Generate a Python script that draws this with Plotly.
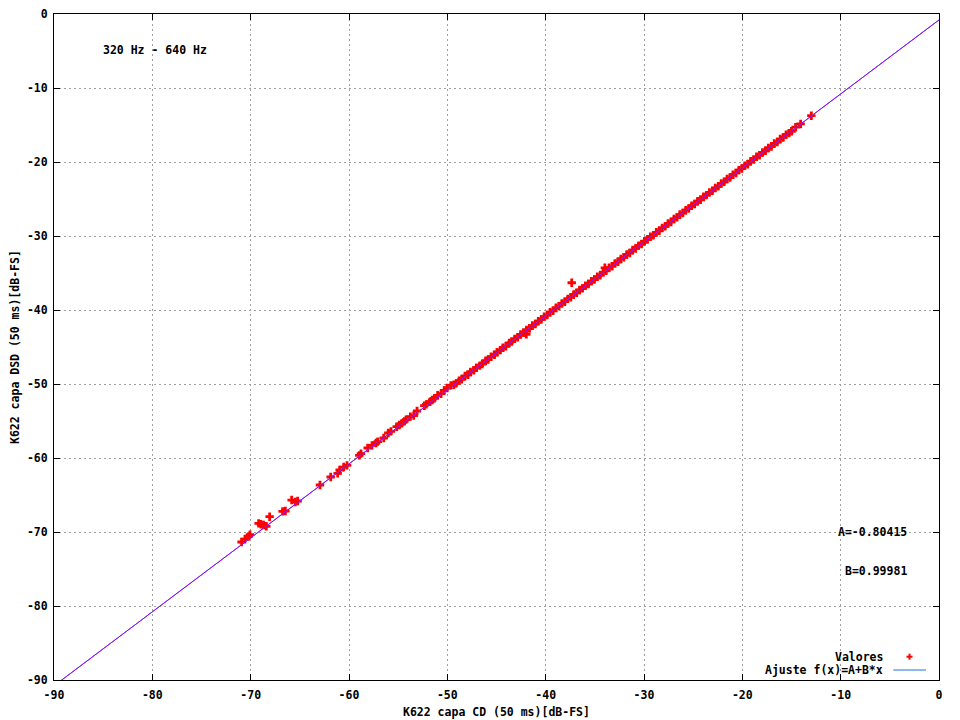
import plotly.graph_objects as go

# ---- data ----
valores_x = [
    -70.92, -70.58, -70.20, -70.07, -69.19, -68.95, -68.68, -68.41, -68.07,
    -66.75, -66.47, -65.83, -65.46, -65.22, -62.95, -61.86, -61.15, -60.95,
    -60.54, -60.20, -58.95, -58.78, -58.10, -57.66, -57.25, -57.08, -56.47,
    -56.00, -55.73, -55.15, -54.88, -54.64, -54.37, -54.20, -53.76, -53.42,
    -53.08, -52.34, -52.14, -51.76, -51.53, -51.32, -50.98, -50.64, -50.31,
    -50.03, -49.63,
    -49.35, -49.10, -48.80, -48.55, -48.20, -47.90, -47.65, -47.30, -47.05,
    -46.70, -46.45, -46.10, -45.85, -45.55, -45.20, -44.95, -44.60, -44.35,
    -44.05, -43.70, -43.45, -43.15, -42.85, -42.55, -42.25, -41.97, -41.95,
    -41.65, -41.35, -41.05, -40.75, -40.45, -40.15, -39.85, -39.55, -39.25,
    -38.95, -38.65, -38.35, -38.05, -37.75, -37.45, -37.35, -37.15, -36.85,
    -36.55, -36.25, -35.95, -35.65, -35.35, -35.05, -34.75, -34.45, -34.15,
    -33.98, -33.85, -33.55, -33.25, -32.95, -32.65, -32.35, -32.05, -31.75,
    -31.45, -31.15, -30.85, -30.55, -30.25, -29.95, -29.65, -29.35, -29.05,
    -28.75, -28.45, -28.15, -27.85, -27.55, -27.25, -26.95, -26.65, -26.35,
    -26.05, -25.75, -25.45, -25.15, -24.85, -24.55, -24.25, -23.95, -23.65,
    -23.35, -23.05, -22.75, -22.45, -22.15, -21.85, -21.55, -21.25, -20.95,
    -20.65, -20.35, -20.05, -19.75, -19.45, -19.15, -18.85, -18.55, -18.25,
    -17.95, -17.65, -17.35, -17.05, -16.75, -16.45, -16.15, -15.85, -15.55,
    -15.25, -15.00, -14.58, -14.07, -12.98,
]
valores_y = [
    -71.35, -70.95, -70.59, -70.36, -68.83, -68.96, -69.05, -69.23, -67.93,
    -67.21, -67.16, -65.68, -65.95, -65.81, -63.65, -62.57, -62.07, -61.62,
    -61.22, -60.99, -59.64, -59.41, -58.65, -58.29, -57.97, -57.79, -57.30,
    -56.62, -56.40, -55.77, -55.54, -55.32, -55.05, -54.82, -54.41, -54.28,
    -53.65, -52.93, -52.75, -52.39, -52.16, -51.94, -51.53, -51.31, -50.86,
    -50.54, -50.18,
    -50.10, -49.92, -49.55, -49.38, -48.92, -48.75, -48.38, -48.15, -47.80,
    -47.52, -47.30, -46.85, -46.70, -46.30, -46.05, -45.70, -45.42, -45.10,
    -44.90, -44.45, -44.28, -43.90, -43.70, -43.30, -43.08, -43.30, -42.70,
    -42.50, -42.10, -41.90, -41.50, -41.28, -40.90, -40.68, -40.30, -40.10,
    -39.70, -39.48, -39.10, -38.88, -38.50, -38.30, -36.32, -37.90, -37.68,
    -37.30, -37.08, -36.70, -36.48, -36.10, -35.88, -35.50, -35.30, -34.90,
    -34.30, -34.70, -34.30, -34.08, -33.70, -33.48, -33.10, -32.88, -32.50,
    -32.30, -31.90, -31.68, -31.30, -31.10, -30.70, -30.48, -30.10, -29.90,
    -29.50, -29.30, -28.90, -28.70, -28.30, -28.10, -27.70, -27.48, -27.10,
    -26.90, -26.50, -26.30, -25.90, -25.68, -25.30, -25.10, -24.70, -24.48,
    -24.10, -23.90, -23.50, -23.30, -22.90, -22.68, -22.30, -22.10, -21.70,
    -21.48, -21.10, -20.90, -20.50, -20.30, -19.90, -19.68, -19.30, -19.10,
    -18.70, -18.48, -18.10, -17.90, -17.50, -17.30, -16.90, -16.68, -16.30,
    -16.10, -15.85, -15.30, -14.86, -13.74,
]

A = -0.80415
B = 0.99981
fit_x = [-90, 0]
fit_y = [A + B * v for v in fit_x]

tick_vals = [-90, -80, -70, -60, -50, -40, -30, -20, -10, 0]
tick_text = [str(v) for v in tick_vals]

FONT = dict(family="DejaVu Sans Mono", size=11.5, color="black", weight="bold")

fig = go.Figure()
fig.add_trace(go.Scatter(x=valores_x, y=valores_y, mode="markers", name="Valores",
                         marker=dict(symbol="cross", size=7, color="#ff0000",
                                     line=dict(width=0))))
fig.add_trace(go.Scatter(x=fit_x, y=fit_y, mode="lines", name="Ajuste f(x)=A+B*x",
                         line=dict(color="#1a72d8", width=1)))
fig.add_trace(go.Scatter(x=fit_x, y=fit_y, mode="lines", showlegend=False,
                         line=dict(color="#b000ff", width=1)))

axis_common = dict(
    range=[-90, 0], tickvals=tick_vals, ticktext=tick_text,
    showline=True, mirror="ticks", linecolor="black", linewidth=1,
    ticks="inside", ticklen=6, tickcolor="black", tickwidth=1,
    showgrid=True, gridcolor="#a0a0a0", griddash="2px,3px", gridwidth=1,
    zeroline=False, tickfont=FONT, automargin=False,
)
fig.update_xaxes(**axis_common, ticklabelstandoff=4)
fig.update_yaxes(**axis_common, ticklabelstandoff=3)

# page coordinates (plot area spans x 54..939, y 14..680 in the 960x720 window)
PX0, PW, PY1, PH = 54, 885, 680, 666

def px(x):
    return (x - PX0) / PW

def py(y):
    return (PY1 - y) / PH

annotations = [
    dict(text="320 Hz - 640 Hz", x=-85.17, y=-4.9, xref="x", yref="y",
         xanchor="left", yanchor="middle", showarrow=False, font=FONT),
    dict(text="A=-0.80415", x=-3.07, y=-70.0, xref="x", yref="y",
         xanchor="right", yanchor="middle", showarrow=False, font=FONT),
    dict(text="B=0.99981", x=-3.07, y=-75.3, xref="x", yref="y",
         xanchor="right", yanchor="middle", showarrow=False, font=FONT),
    dict(text="K622 capa CD (50 ms)[dB-FS]", x=0.5, y=0, xref="paper", yref="paper",
         yshift=-32, xanchor="center", yanchor="middle", showarrow=False, font=FONT),
    dict(text="K622 capa DSD (50 ms)[dB-FS]", x=0, y=0.5, xref="paper", yref="paper",
         xshift=-39, textangle=-90, xanchor="center", yanchor="middle",
         showarrow=False, font=FONT),
    dict(text="Valores", x=px(885), y=py(656.7), xref="paper",
         yref="paper", xanchor="right", yanchor="middle", showarrow=False, font=FONT),
    dict(text="Ajuste f(x)=A+B*x", x=px(885), y=py(670),
         xref="paper", yref="paper", xanchor="right", yanchor="middle",
         showarrow=False, font=FONT),
]

kx = px(909.5)
ky = py(656.7)
shapes = [
    dict(type="line", xref="paper", yref="paper", x0=px(893.3), x1=px(926),
         y0=py(670), y1=py(670), line=dict(color="#1a72d8", width=1)),
    dict(type="line", xref="paper", yref="paper", xsizemode="pixel", ysizemode="pixel",
         xanchor=kx, yanchor=ky, x0=-3, x1=3, y0=0, y1=0,
         line=dict(color="#ff0000", width=2)),
    dict(type="line", xref="paper", yref="paper", xsizemode="pixel", ysizemode="pixel",
         xanchor=kx, yanchor=ky, x0=0, x1=0, y0=-3, y1=3,
         line=dict(color="#ff0000", width=2)),
]

fig.update_layout(
    width=960, height=720,
    margin=dict(l=54, r=21, t=14, b=40, autoexpand=False),
    paper_bgcolor="white", plot_bgcolor="white",
    showlegend=False,
    font=FONT,
    annotations=annotations,
    shapes=shapes,
)

# pin the 960x720 figure to the window's top-left corner
fig.write_html(
    "out.html",
    config={"displayModeBar": False},
    post_script=(
        "document.body.style.margin='0';"
        "document.body.style.overflow='hidden';"
        "var d=document.getElementById('{plot_id}');"
        "d.style.position='fixed';d.style.left='0px';d.style.top='0px';"
    ),
)
